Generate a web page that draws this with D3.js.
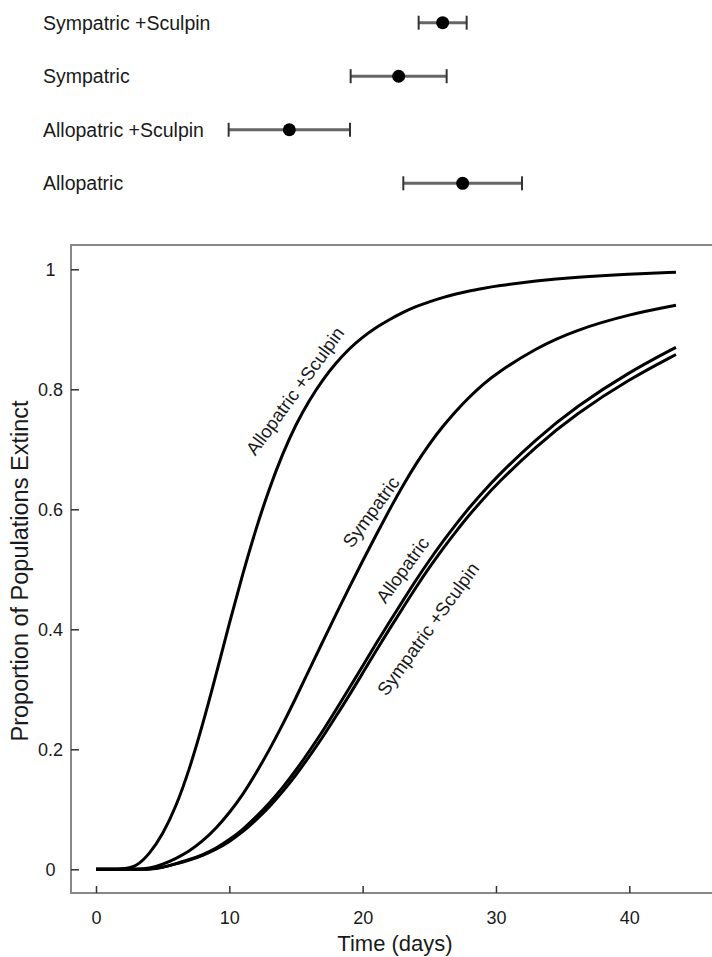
<!DOCTYPE html>
<html>
<head>
<meta charset="utf-8">
<script src="https://cdn.jsdelivr.net/npm/d3@7"></script>
<style>
  body { margin: 0; background: #fff; }
  svg { display: block; font-family: "Liberation Sans", Arial, sans-serif; }
  text { fill: #1a1a1a; }
</style>
</head>
<body>
<script>
// top panel: estimates with intervals (days)
var groups = ["Sympatric +Sculpin", "Sympatric", "Allopatric +Sculpin", "Allopatric"];
var means  = [26.0, 22.7, 14.5, 27.5];
var lower  = [24.2, 19.1, 9.95, 23.05];
var upper  = [27.8, 26.3, 19.05, 31.95];

// bottom panel: proportion extinct over time
var days = [0, 2, 3, 4, 5, 6, 7, 8, 9, 10, 11, 12, 13, 14, 15, 16, 17, 18, 19, 20,
            21, 22, 23, 24, 25, 26, 27, 28, 29, 30, 33, 36, 40, 43.5];
var alloSculpin = [0, 0, 0.004, 0.025, 0.058, 0.104, 0.166, 0.241, 0.324, 0.41, 0.492, 0.568, 0.635, 0.693, 0.742, 0.782, 0.816, 0.844, 0.868, 0.887,
                   0.903, 0.916, 0.928, 0.938, 0.946, 0.953, 0.959, 0.964, 0.968, 0.972, 0.981, 0.987, 0.992, 0.995];
var sympatric   = [0, 0, 0, 0.001, 0.008, 0.018, 0.030, 0.047, 0.068, 0.094, 0.124, 0.160, 0.199, 0.241, 0.286, 0.333, 0.379, 0.425, 0.470, 0.514,
                   0.557, 0.599, 0.639, 0.676, 0.709, 0.738, 0.764, 0.787, 0.808, 0.826, 0.869, 0.899, 0.925, 0.940];
var allopatric  = [0, 0, 0, 0, 0.003, 0.0095, 0.016, 0.024, 0.035, 0.049, 0.066, 0.087, 0.110, 0.136, 0.165, 0.197, 0.230, 0.266, 0.302, 0.339,
                   0.376, 0.412, 0.447, 0.482, 0.515, 0.546, 0.575, 0.603, 0.628, 0.653, 0.717, 0.771, 0.829, 0.870];
var sympSculpin = [0, 0, 0, 0, 0.003, 0.009, 0.015, 0.023, 0.033, 0.046, 0.062, 0.082, 0.104, 0.129, 0.157, 0.188, 0.220, 0.255, 0.290, 0.327,
                   0.364, 0.400, 0.435, 0.470, 0.503, 0.534, 0.563, 0.591, 0.616, 0.641, 0.705, 0.759, 0.817, 0.858];

var curveNames = ["Allopatric +Sculpin", "Sympatric", "Allopatric", "Sympatric +Sculpin"];
var curveVals = [alloSculpin, sympatric, allopatric, sympSculpin];

var xTicks = [0, 10, 20, 30, 40];
var yTicks = [0, 0.2, 0.4, 0.6, 0.8, 1];

var width = 712, height = 957;

var svg = d3.select("body").append("svg")
    .attr("width", width)
    .attr("height", height);

var x = d3.scaleLinear().domain([0, 40]).range([96, 629.3]);
var y = d3.scaleLinear().domain([0, 1]).range([869.3, 269.3]);

//top panel
var row = d3.scalePoint().domain(groups).range([22.7, 183.3]);

var panel = svg.append("g");
panel.selectAll(".glab")
    .data(groups)
    .enter().append("text")
    .attr("x", 43)
    .attr("y", function(d) { return row(d); })
    .attr("dy", "0.35em")
    .style("font-size", "19.5px")
    .text(function(d) { return d; });

groups.forEach(function(g, i) {
    var yy = row(g);
    panel.append("line")
        .attr("x1", x(lower[i])).attr("x2", x(upper[i]))
        .attr("y1", yy).attr("y2", yy)
        .attr("stroke", "#666").attr("stroke-width", 3);
    [lower[i], upper[i]].forEach(function(v) {
        panel.append("line")
            .attr("x1", x(v)).attr("x2", x(v))
            .attr("y1", yy - 7).attr("y2", yy + 7)
            .attr("stroke", "#333").attr("stroke-width", 2);
    });
    panel.append("circle")
        .attr("cx", x(means[i])).attr("cy", yy)
        .attr("r", 6.5).attr("fill", "#000");
});

//bottom panel frame
svg.append("rect")
    .attr("x", 71).attr("y", 245)
    .attr("width", 660).attr("height", 648)
    .attr("fill", "none")
    .attr("stroke", "#888")
    .attr("stroke-width", 2);

var xAxis = svg.append("g")
    .attr("transform", "translate(0,893)")
    .call(d3.axisBottom(x).tickValues(xTicks).tickSizeInner(-7).tickSizeOuter(0).tickPadding(18));
xAxis.select(".domain").remove();
xAxis.selectAll(".tick line").attr("stroke", "#333").attr("stroke-width", 1.5);
xAxis.selectAll("text").style("font-size", "18px").attr("fill", "#1a1a1a");

var yAxis = svg.append("g")
    .attr("transform", "translate(71,0)")
    .call(d3.axisLeft(y).tickValues(yTicks).tickSizeInner(-8).tickSizeOuter(0)
        .tickFormat(function(d) { return d3.format("")(d); }));
yAxis.select(".domain").remove();
yAxis.selectAll(".tick line").attr("stroke", "#333").attr("stroke-width", 1.5);
yAxis.selectAll("text")
    .attr("x", -20.5)
    .attr("text-anchor", "middle")
    .style("font-size", "18px")
    .attr("fill", "#1a1a1a");

svg.append("text")
    .attr("x", 395).attr("y", 951)
    .attr("text-anchor", "middle")
    .style("font-size", "22px")
    .text("Time (days)");

svg.append("text")
    .attr("transform", "translate(20,571) rotate(-90)")
    .attr("text-anchor", "middle")
    .attr("dy", "0.35em")
    .style("font-size", "23.5px")
    .text("Proportion of Populations Extinct");

//curves
var line = d3.line()
    .x(function(d) { return x(d[0]); })
    .y(function(d) { return y(d[1]); })
    .curve(d3.curveBasis);

curveVals.forEach(function(vals) {
    svg.append("path")
        .datum(days.map(function(t, i) { return [t, vals[i]]; }))
        .attr("d", line)
        .attr("fill", "none")
        .attr("stroke", "#000")
        .attr("stroke-width", 3);
});

//curve labels
var labelPos = [[295, 391], [371, 512], [402.5, 570], [428, 629]];
curveNames.forEach(function(n, i) {
    svg.append("text")
        .attr("transform", "translate(" + labelPos[i][0] + "," + labelPos[i][1] + ") rotate(-54)")
        .attr("text-anchor", "middle")
        .attr("dy", "0.35em")
        .style("font-size", "18.5px")
        .text(n);
});
</script>
</body>
</html>
